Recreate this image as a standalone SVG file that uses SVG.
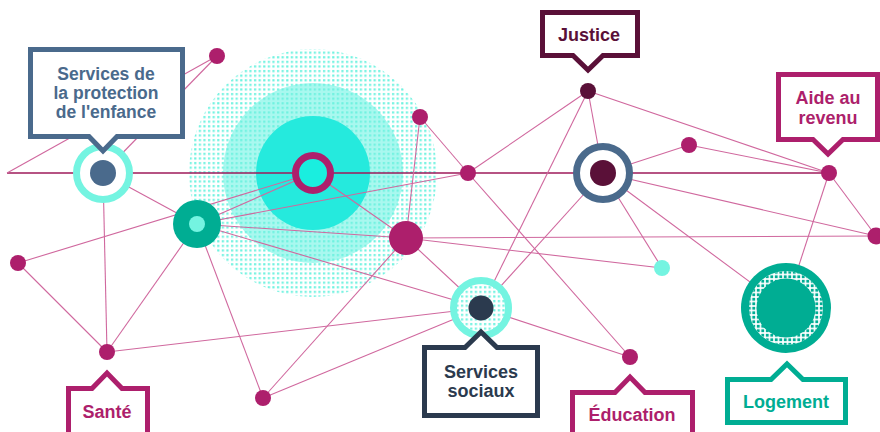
<svg xmlns="http://www.w3.org/2000/svg" width="880" height="432" viewBox="0 0 880 432">
<defs>
<pattern id="dots" patternUnits="userSpaceOnUse" width="4.6" height="4.6"><rect x="1" y="1" width="2.2" height="2.2" fill="#6ff2e0"/></pattern>
<pattern id="tdots" patternUnits="userSpaceOnUse" width="4.5" height="4.5"><rect x="0.8" y="0.8" width="2.9" height="2.9" fill="#00ad93"/></pattern>
<style>
.e{stroke:#d0689e;stroke-width:1.1;fill:none}
.mag{fill:#ad1f6c}
.box{fill:#fff;stroke-width:5;stroke-linejoin:miter}
.t{font-family:"Liberation Sans",Arial,sans-serif;font-weight:bold;font-size:18px;text-anchor:middle}
.t2{font-size:17.5px}
</style>
</defs>
<rect width="880" height="432" fill="#fff"/>

<g id="halo">
<circle cx="313" cy="173" r="90" fill="#a9f8ef"/>
<circle cx="313" cy="173" r="124" fill="url(#dots)"/>
<circle cx="313" cy="173" r="57" fill="#25eadd"/>
</g>

<g id="connectors">
<line x1="7" y1="173" x2="829" y2="173" stroke="#9e1a5a" stroke-width="1.3"/>
<line class="e" x1="217" y1="56" x2="7" y2="173"/>
<line class="e" x1="217" y1="56" x2="103" y2="173"/>
<line class="e" x1="103" y1="173" x2="197" y2="224"/>
<line class="e" x1="103" y1="173" x2="107" y2="352"/>
<line class="e" x1="18" y1="263" x2="313" y2="173"/>
<line class="e" x1="18" y1="263" x2="107" y2="352"/>
<line class="e" x1="107" y1="352" x2="197" y2="224"/>
<line class="e" x1="107" y1="352" x2="481" y2="308"/>
<line class="e" x1="263" y1="398" x2="197" y2="224"/>
<line class="e" x1="263" y1="398" x2="406" y2="238"/>
<line class="e" x1="263" y1="398" x2="481" y2="308"/>
<line class="e" x1="197" y1="224" x2="313" y2="173"/>
<line class="e" x1="197" y1="224" x2="406" y2="238"/>
<line class="e" x1="197" y1="224" x2="468" y2="173"/>
<line class="e" x1="197" y1="224" x2="481" y2="308"/>
<line class="e" x1="313" y1="173" x2="406" y2="238"/>
<line class="e" x1="420" y1="117" x2="406" y2="238"/>
<line class="e" x1="420" y1="117" x2="468" y2="173"/>
<line class="e" x1="468" y1="173" x2="630" y2="357"/>
<line class="e" x1="468" y1="173" x2="588" y2="91"/>
<line class="e" x1="588" y1="91" x2="481" y2="308"/>
<line class="e" x1="588" y1="91" x2="603" y2="173"/>
<line class="e" x1="588" y1="91" x2="829" y2="173"/>
<line class="e" x1="603" y1="173" x2="689" y2="145"/>
<line class="e" x1="603" y1="173" x2="481" y2="308"/>
<line class="e" x1="603" y1="173" x2="662" y2="268"/>
<line class="e" x1="603" y1="173" x2="876" y2="236"/>
<line class="e" x1="603" y1="173" x2="785" y2="308"/>
<line class="e" x1="689" y1="145" x2="829" y2="173"/>
<line class="e" x1="829" y1="173" x2="876" y2="236"/>
<line class="e" x1="829" y1="173" x2="785" y2="308"/>
<line class="e" x1="406" y1="238" x2="876" y2="236"/>
<line class="e" x1="406" y1="238" x2="662" y2="268"/>
<line class="e" x1="406" y1="238" x2="481" y2="308"/>
<line class="e" x1="481" y1="308" x2="630" y2="357"/>
</g>

<g id="n-centre"><circle cx="313" cy="173" r="17.5" fill="#1aeedf" stroke="#ad1f6c" stroke-width="7"/></g>
<g id="n-d"><circle class="mag" cx="217" cy="56" r="8"/></g>
<g id="n-e"><circle class="mag" cx="420" cy="117" r="8"/></g>
<g id="n-f"><circle class="mag" cx="468" cy="173" r="8"/></g>
<g id="n-g"><circle class="mag" cx="406" cy="238" r="17"/></g>
<g id="n-j"><circle class="mag" cx="689" cy="145" r="8"/></g>
<g id="n-l"><circle class="mag" cx="876" cy="236" r="8.5"/></g>
<g id="n-m"><circle cx="662" cy="268" r="8" fill="#74f4e1"/></g>
<g id="n-r"><circle class="mag" cx="18" cy="263" r="8"/></g>
<g id="n-s"><circle class="mag" cx="263" cy="398" r="8"/></g>
<g id="n-b"><circle cx="197" cy="224" r="24" fill="#00ad93"/><circle cx="197" cy="224" r="8" fill="#74f4e1"/></g>

<g id="n-enfance">
<circle cx="103" cy="173" r="26.5" fill="#fff" stroke="#74f4e1" stroke-width="7"/>
<circle cx="103" cy="173" r="13" fill="#4a6a8c"/>
<path class="box" stroke="#4a6a8c" d="M30.5 49.5 H182.5 V136.5 H117 L103 151 L89 136.5 H30.5 Z"/>
<text class="t t2" fill="#4a6a8c" x="106" y="80">Services de</text>
<text class="t t2" fill="#4a6a8c" x="106" y="99">la protection</text>
<text class="t t2" fill="#4a6a8c" x="106" y="118">de l'enfance</text>
</g>

<g id="n-justice">
<circle cx="588" cy="91" r="8" fill="#5a1038"/>
<path class="box" stroke="#5a1038" d="M542.5 12.5 H637.5 V55.5 H603 L588 70 L573 55.5 H542.5 Z"/>
<text class="t" fill="#5a1038" x="589" y="41">Justice</text>
</g>

<g id="n-blue">
<circle cx="603" cy="173" r="26.5" fill="#fff" stroke="#4a6a8c" stroke-width="7"/>
<circle cx="603" cy="173" r="13" fill="#5a1038"/>
</g>

<g id="n-aide">
<circle class="mag" cx="829" cy="173" r="8"/>
<path class="box" stroke="#ad1f6c" d="M778.5 74.5 H877.5 V139.5 H843 L828 154 L813 139.5 H778.5 Z"/>
<text class="t" fill="#ad1f6c" x="828" y="104">Aide au</text>
<text class="t" fill="#ad1f6c" x="828" y="124">revenu</text>
</g>

<g id="n-sociaux">
<circle cx="481" cy="308" r="27.5" fill="#fff"/>
<circle cx="481" cy="308" r="27.5" fill="url(#dots)" stroke="#74f4e1" stroke-width="7"/>
<circle cx="481" cy="308" r="12.5" fill="#2b3a4e"/>
<path class="box" stroke="#2b3a4e" d="M424.5 347.5 H465 L481 332 L497 347.5 H537.5 V415.5 H424.5 Z"/>
<text class="t" fill="#2b3a4e" x="481" y="378">Services</text>
<text class="t" fill="#2b3a4e" x="481" y="397">sociaux</text>
</g>

<g id="n-education">
<circle class="mag" cx="630" cy="357" r="8"/>
<path class="box" stroke="#ad1f6c" d="M572.5 392.5 H615 L630 377 L645 392.5 H692.5 V450 H572.5 Z"/>
<text class="t" fill="#ad1f6c" x="632" y="421">Éducation</text>
</g>

<g id="n-logement">
<circle cx="786" cy="308" r="45" fill="#00ad93"/>
<circle cx="786" cy="308" r="37" fill="#fff"/>
<circle cx="786" cy="308" r="37" fill="url(#tdots)"/>
<circle cx="786" cy="308" r="29.5" fill="#00ad93"/>
<path class="box" stroke="#00ad93" d="M727.5 379.5 H771 L787 364 L803 379.5 H845.5 V422.5 H727.5 Z"/>
<text class="t" fill="#00ad93" x="786" y="408">Logement</text>
</g>

<g id="n-sante">
<circle class="mag" cx="107" cy="352" r="8"/>
<path class="box" stroke="#ad1f6c" d="M68.5 388.5 H92 L107 373 L122 388.5 H147.5 V450 H68.5 Z"/>
<text class="t" fill="#ad1f6c" x="107" y="418">Santé</text>
</g>
</svg>
